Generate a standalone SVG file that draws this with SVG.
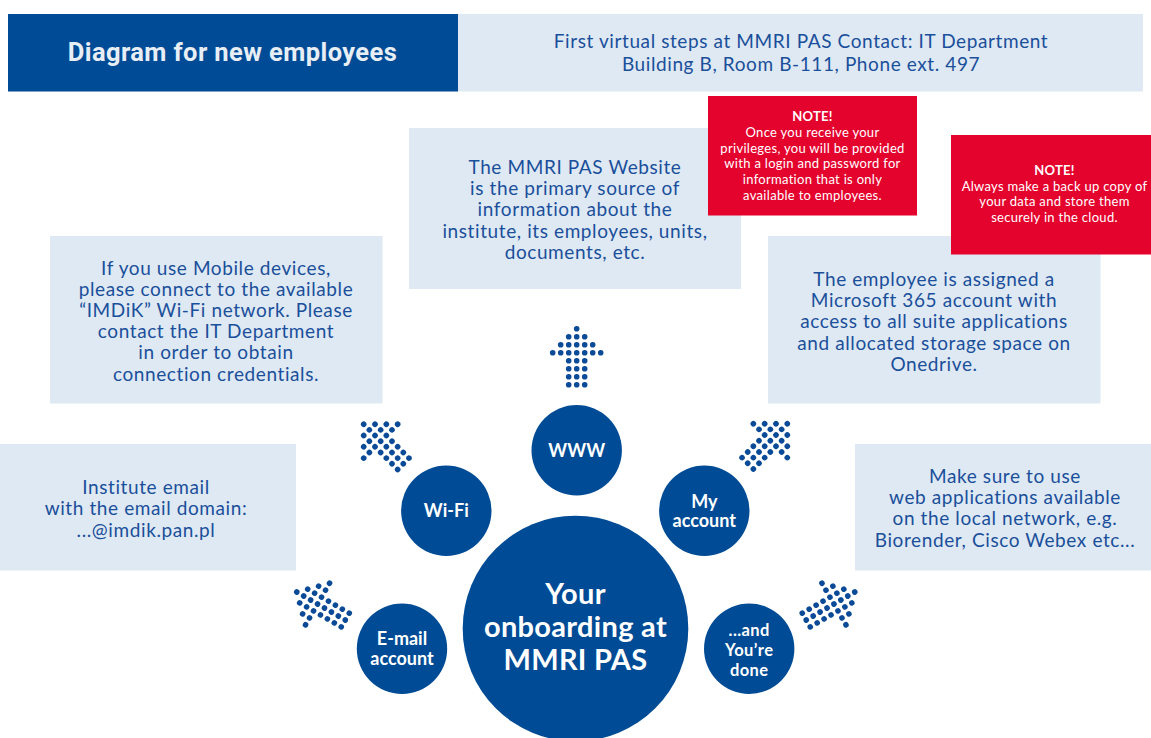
<svg xmlns="http://www.w3.org/2000/svg" width="1151" height="738" viewBox="0 0 1151 738">
  <style>
    .panel{fill:#dfe9f3}
    .note{fill:#e4032d}
    .disc{fill:#004b95}
    .dot{fill:#0a4a96}
    .body{font-family:Lato,"Noto Sans","Liberation Sans",sans-serif;font-size:19px;letter-spacing:0.6px;fill:#1a4f9b;text-anchor:middle}
    .notetxt{font-family:Lato,"Noto Sans","Liberation Sans",sans-serif;font-size:13px;letter-spacing:0.3px;fill:#ffffff;text-anchor:middle}
    .nhead{font-weight:bold}
    .lbl{font-family:Lato,"Noto Sans","Liberation Sans",sans-serif;font-weight:bold;font-size:18px;fill:#ffffff;text-anchor:middle}
    .tight{font-size:16.5px;letter-spacing:0.4px}
    .big{font-size:29px;letter-spacing:0.3px}
    .title{font-family:Roboto,"Liberation Sans",sans-serif;font-weight:bold;font-size:25.5px;letter-spacing:0.4px;fill:#e8eef6;text-anchor:middle}
  </style>
  <defs>
    <!-- dotted arrow pointing up, centred on the origin -->
    <g id="dotArrow" class="dot">
      <circle cx="0" cy="-28" r="2.8"/>
      <circle cx="-8" cy="-20" r="2.8"/><circle cx="0" cy="-20" r="2.8"/><circle cx="8" cy="-20" r="2.8"/>
      <circle cx="-16" cy="-12" r="2.8"/><circle cx="-8" cy="-12" r="2.8"/><circle cx="0" cy="-12" r="2.8"/><circle cx="8" cy="-12" r="2.8"/><circle cx="16" cy="-12" r="2.8"/>
      <circle cx="-24" cy="-4" r="2.8"/><circle cx="-16" cy="-4" r="2.8"/><circle cx="-8" cy="-4" r="2.8"/><circle cx="0" cy="-4" r="2.8"/><circle cx="8" cy="-4" r="2.8"/><circle cx="16" cy="-4" r="2.8"/><circle cx="24" cy="-4" r="2.8"/>
      <circle cx="-8" cy="4" r="2.8"/><circle cx="0" cy="4" r="2.8"/><circle cx="8" cy="4" r="2.8"/>
      <circle cx="-8" cy="12" r="2.8"/><circle cx="0" cy="12" r="2.8"/><circle cx="8" cy="12" r="2.8"/>
      <circle cx="-8" cy="20" r="2.8"/><circle cx="0" cy="20" r="2.8"/><circle cx="8" cy="20" r="2.8"/>
      <circle cx="-8" cy="28" r="2.8"/><circle cx="0" cy="28" r="2.8"/><circle cx="8" cy="28" r="2.8"/>
    </g>
  </defs>

  <rect width="1151" height="738" fill="#ffffff"/>

  <!-- header -->
  <g id="header-title">
    <rect x="8" y="14" width="450" height="77.5" fill="#004b95"/>
    <text class="title" x="232.5" y="60.5">Diagram for new employees</text>
  </g>
  <g id="header-contact">
    <rect class="panel" x="458" y="14" width="685" height="77.5"/>
    <text class="body" x="801" y="48">First virtual steps at MMRI PAS Contact: IT Department</text>
    <text class="body" x="801" y="71">Building B, Room B-111, Phone ext. 497</text>
  </g>

  <!-- information panels -->
  <g id="panel-website">
    <rect class="panel" x="409" y="128" width="332" height="161"/>
    <text class="body" x="575" y="174">The MMRI PAS Website</text>
    <text class="body" x="575" y="195.2">is the primary source of</text>
    <text class="body" x="575" y="216.4">information about the</text>
    <text class="body" x="575" y="237.6">institute, its employees, units,</text>
    <text class="body" x="575" y="258.8">documents, etc.</text>
  </g>
  <g id="panel-wifi">
    <rect class="panel" x="50" y="236" width="332.5" height="167.5"/>
    <text class="body" x="216" y="275">If you use Mobile devices,</text>
    <text class="body" x="216" y="296.1">please connect to the available</text>
    <text class="body" x="216" y="317.2">“IMDiK” Wi-Fi network. Please</text>
    <text class="body" x="216" y="338.3">contact the IT Department</text>
    <text class="body" x="216" y="359.4">in order to obtain</text>
    <text class="body" x="216" y="380.5">connection credentials.</text>
  </g>
  <g id="panel-account">
    <rect class="panel" x="768" y="236" width="332.5" height="167.5"/>
    <text class="body" x="934" y="286">The employee is assigned a</text>
    <text class="body" x="934" y="307.2">Microsoft 365 account with</text>
    <text class="body" x="934" y="328.4">access to all suite applications</text>
    <text class="body" x="934" y="349.6">and allocated storage space on</text>
    <text class="body" x="934" y="370.8">Onedrive.</text>
  </g>
  <g id="panel-email">
    <rect class="panel" x="0" y="444" width="296" height="126.5"/>
    <text class="body" x="146" y="494">Institute email</text>
    <text class="body" x="146" y="515.3">with the email domain:</text>
    <text class="body" x="146" y="536.6">...@imdik.pan.pl</text>
  </g>
  <g id="panel-apps">
    <rect class="panel" x="855" y="444" width="296" height="126.5"/>
    <text class="body" x="1005" y="483">Make sure to use</text>
    <text class="body" x="1005" y="504.2">web applications available</text>
    <text class="body" x="1005" y="525.4">on the local network, e.g.</text>
    <text class="body" x="1005" y="546.6">Biorender, Cisco Webex etc...</text>
  </g>

  <!-- notes -->
  <g id="note-privileges">
    <rect class="note" x="708" y="96" width="209" height="119.5"/>
    <text class="notetxt nhead" x="812.5" y="121">NOTE!</text>
    <text class="notetxt" x="812.5" y="136.8">Once you receive your</text>
    <text class="notetxt" x="812.5" y="152.6">privileges, you will be provided</text>
    <text class="notetxt" x="812.5" y="168.4">with a login and password for</text>
    <text class="notetxt" x="812.5" y="184.2">information that is only</text>
    <text class="notetxt" x="812.5" y="200">available to employees.</text>
  </g>
  <g id="note-backup">
    <rect class="note" x="951" y="135" width="200" height="119.5"/>
    <text class="notetxt nhead" x="1054.5" y="175">NOTE!</text>
    <text class="notetxt" x="1054.5" y="190.6">Always make a back up copy of</text>
    <text class="notetxt" x="1054.5" y="206.2">your data and store them</text>
    <text class="notetxt" x="1054.5" y="221.8">securely in the cloud.</text>
  </g>

  <!-- dotted arrows -->
  <g id="connectors">
    <use href="#dotArrow" transform="translate(576.7,356.7)"/>
    <use href="#dotArrow" transform="translate(383.5,444) rotate(-45)"/>
    <use href="#dotArrow" transform="translate(767.5,443.5) rotate(45)"/>
    <use href="#dotArrow" transform="translate(321,606) rotate(-60)"/>
    <use href="#dotArrow" transform="translate(830.5,606) rotate(60)"/>
  </g>

  <!-- circles -->
  <g id="node-onboarding">
    <circle class="disc" cx="575.5" cy="628.5" r="112.8"/>
    <text class="lbl big" x="575.5" y="604">Your</text>
    <text class="lbl big" x="575.5" y="637">onboarding at</text>
    <text class="lbl big" x="575.5" y="669.5">MMRI PAS</text>
  </g>
  <g id="node-www">
    <circle class="disc" cx="576.7" cy="450.3" r="45.2"/>
    <text class="lbl" x="576.7" y="456.7">WWW</text>
  </g>
  <g id="node-wifi">
    <circle class="disc" cx="446.3" cy="510.7" r="45.2"/>
    <text class="lbl" x="446.3" y="516.7">Wi-Fi</text>
  </g>
  <g id="node-myaccount">
    <circle class="disc" cx="704.3" cy="510.7" r="45.2"/>
    <text class="lbl" x="704.3" y="507.5">My</text>
    <text class="lbl" x="704.3" y="527.3">account</text>
  </g>
  <g id="node-email">
    <circle class="disc" cx="402" cy="648.7" r="45.2"/>
    <text class="lbl" x="402" y="645">E-mail</text>
    <text class="lbl" x="402" y="665">account</text>
  </g>
  <g id="node-done">
    <circle class="disc" cx="749.2" cy="648.7" r="45.2"/>
    <text class="lbl tight" x="749.2" y="636.3">...and</text>
    <text class="lbl tight" x="749.2" y="656">You’re</text>
    <text class="lbl tight" x="749.2" y="675.7">done</text>
  </g>
</svg>
